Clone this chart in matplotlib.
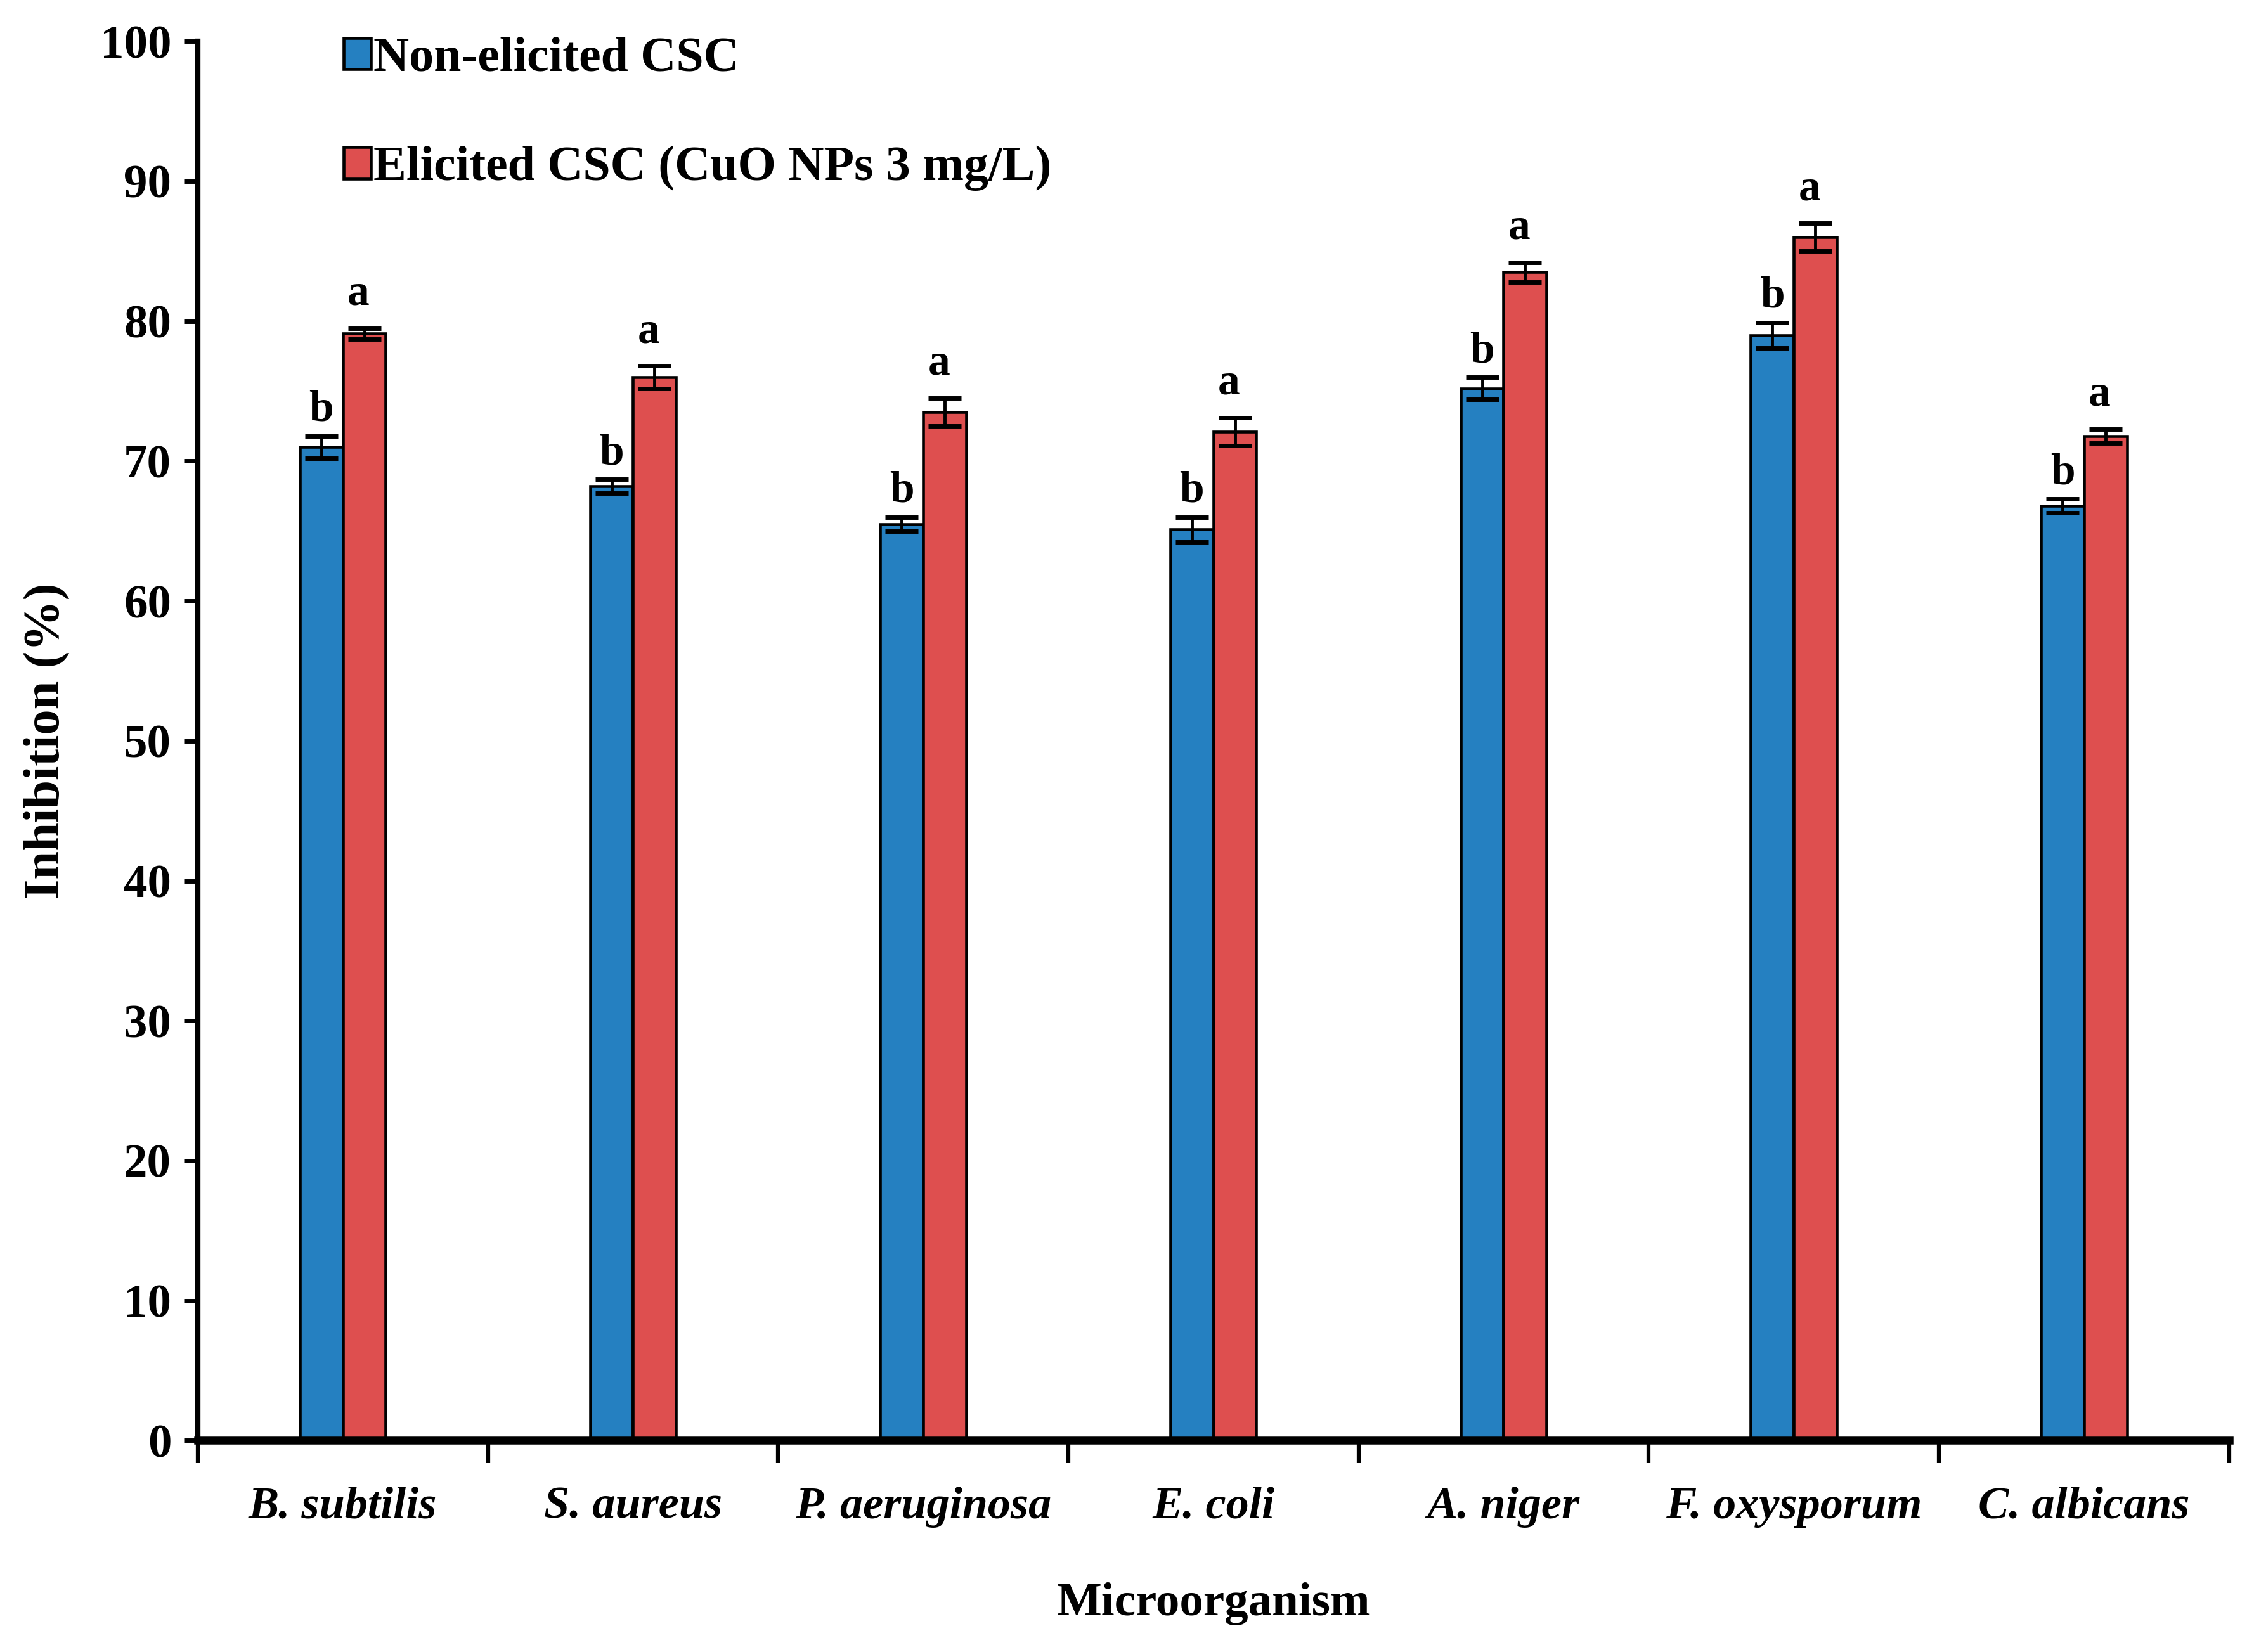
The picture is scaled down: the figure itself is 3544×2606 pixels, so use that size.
import matplotlib
matplotlib.use("Agg")
import matplotlib.pyplot as plt
import numpy as np
from matplotlib.ticker import MultipleLocator, FixedLocator

plt.rcParams['font.family'] = ['Liberation Serif', 'DejaVu Serif']

categories = ["B. subtilis", "S. aureus", "P. aeruginosa", "E. coli",
              "A. niger", "F. oxysporum", "C. albicans"]
non_elicited = [71.0, 68.2, 65.5, 65.1, 75.2, 79.0, 66.8]
non_elicited_err = [0.8, 0.5, 0.5, 0.9, 0.8, 0.9, 0.5]
elicited = [79.1, 76.0, 73.5, 72.1, 83.5, 86.0, 71.8]
elicited_err = [0.4, 0.8, 1.0, 1.0, 0.7, 1.0, 0.5]
letters_non = ["b"] * 7
letters_eli = ["a"] * 7
series_names = ["Non-elicited CSC", "Elicited CSC (CuO NPs 3 mg/L)"]

blue = "#2580C1"
red = "#DE4F4F"

fig = plt.figure(figsize=(35.44, 26.06), dpi=100)
ax = fig.add_axes([0.088, 0.128, 0.904, 0.847])

x = np.arange(len(categories))
w = 0.148
lw = 3.3
ax.bar(x - w / 2, non_elicited, w, color=blue, edgecolor="black",
       linewidth=lw, label=series_names[0], zorder=2)
ax.bar(x + w / 2, elicited, w, color=red, edgecolor="black",
       linewidth=lw, label=series_names[1], zorder=2)
ax.errorbar(x - w / 2, non_elicited, yerr=non_elicited_err, fmt="none",
            ecolor="black", elinewidth=3.5, capsize=19, capthick=5, zorder=3)
ax.errorbar(x + w / 2, elicited, yerr=elicited_err, fmt="none",
            ecolor="black", elinewidth=3.5, capsize=19, capthick=5, zorder=3)

for xi, v, e, t in zip(x, non_elicited, non_elicited_err, letters_non):
    ax.text(xi - w / 2, v + e + 0.4, t, ha="center", va="bottom",
            fontsize=50, fontweight="bold", color="black")
for xi, v, e, t in zip(x, elicited, elicited_err, letters_eli):
    ax.text(xi + w / 2 - 0.02, v + e + 1.0, t, ha="center", va="bottom",
            fontsize=50, fontweight="bold", color="black")

ax.set_xlim(-0.5, len(categories) - 0.5)
ax.set_ylim(0, 100)
ax.yaxis.set_major_locator(MultipleLocator(10))
ax.set_xticks(x)
ax.set_xticklabels(categories, fontsize=52, fontweight="bold", fontstyle="italic")
ax.xaxis.set_minor_locator(FixedLocator(np.arange(-0.5, len(categories), 1.0)))
ax.tick_params(axis="x", which="major", length=0, pad=52)
ax.tick_params(axis="x", which="minor", length=26, width=4.5, direction="out")
ax.tick_params(axis="y", which="major", length=16, width=5, direction="out",
               labelsize=54, pad=14)
for lab in ax.get_yticklabels():
    lab.set_fontweight("bold")

ax.spines["top"].set_visible(False)
ax.spines["right"].set_visible(False)
ax.spines["left"].set_linewidth(6)
ax.spines["bottom"].set_linewidth(9)

ax.set_ylabel("Inhibition (%)", fontsize=58, fontweight="bold", labelpad=34)
ax.set_xlabel("Microorganism", fontsize=54, fontweight="bold", labelpad=62)

ax.legend(loc="upper left", bbox_to_anchor=(0.05, 1.035), frameon=False,
          handlelength=0.55, handleheight=0.6,
          handletextpad=0.05, labelspacing=1.3,
          prop={"weight": "bold", "size": 56})

fig.savefig("out.png", dpi=100, facecolor="white")
